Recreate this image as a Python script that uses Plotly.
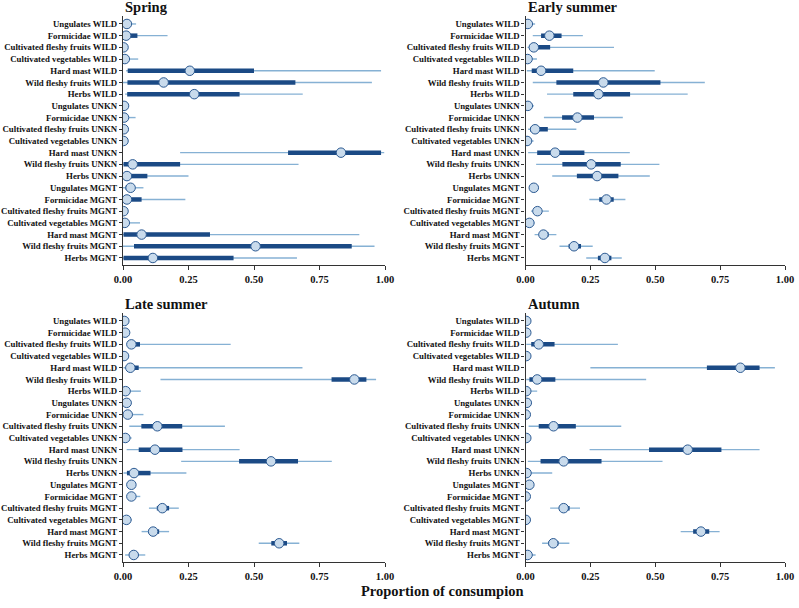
import plotly.graph_objects as go

categories = [
    "Ungulates WILD", "Formicidae WILD", "Cultivated fleshy fruits WILD",
    "Cultivated vegetables WILD", "Hard mast WILD", "Wild fleshy fruits WILD",
    "Herbs WILD", "Ungulates UNKN", "Formicidae UNKN",
    "Cultivated fleshy fruits UNKN", "Cultivated vegetables UNKN",
    "Hard mast UNKN", "Wild fleshy fruits UNKN", "Herbs UNKN",
    "Ungulates MGNT", "Formicidae MGNT", "Cultivated fleshy fruits MGNT",
    "Cultivated vegetables MGNT", "Hard mast MGNT", "Wild fleshy fruits MGNT",
    "Herbs MGNT",
]

seasons = ["Spring", "Early summer", "Late summer", "Autumn"]
x_tick_vals = [0.0, 0.25, 0.5, 0.75, 1.0]
x_tick_text = ["0.00", "0.25", "0.50", "0.75", "1.00"]

# Spring
spring_lo95 = [0.0, 0.0, 0.0, 0.0, 0.012, 0.0, 0.008, 0.0, 0.0, 0.0, 0.0, 0.218, 0.0, 0.0, 0.0, 0.0, 0.0, 0.0, 0.0, 0.0, 0.0]
spring_lo50 = [0.005, 0.004, 0.0, 0.001, 0.018, 0.017, 0.016, 0.001, 0.001, 0.0, 0.0, 0.630, 0.002, 0.001, 0.010, 0.003, 0.0, 0.001, 0.002, 0.042, 0.002]
spring_med = [0.015, 0.012, 0.002, 0.007, 0.255, 0.155, 0.272, 0.004, 0.004, 0.003, 0.002, 0.832, 0.037, 0.015, 0.029, 0.015, 0.002, 0.007, 0.071, 0.506, 0.114]
spring_hi50 = [0.025, 0.055, 0.003, 0.015, 0.500, 0.658, 0.445, 0.008, 0.010, 0.005, 0.004, 0.985, 0.218, 0.093, 0.040, 0.071, 0.003, 0.015, 0.332, 0.873, 0.422]
spring_hi95 = [0.050, 0.170, 0.006, 0.058, 0.985, 0.950, 0.686, 0.015, 0.048, 0.010, 0.008, 0.997, 0.670, 0.250, 0.078, 0.238, 0.006, 0.065, 0.902, 0.960, 0.664]

# Early summer
early_lo95 = [0.0, 0.028, 0.008, 0.0, 0.005, 0.028, 0.083, 0.0, 0.071, 0.010, 0.0, 0.010, 0.041, 0.103, 0.022, 0.246, 0.021, 0.003, 0.035, 0.131, 0.234]
early_lo50 = [0.003, 0.060, 0.015, 0.002, 0.024, 0.119, 0.184, 0.003, 0.141, 0.018, 0.002, 0.045, 0.142, 0.198, 0.028, 0.284, 0.035, 0.009, 0.056, 0.166, 0.279]
early_med = [0.009, 0.092, 0.032, 0.008, 0.060, 0.300, 0.281, 0.009, 0.200, 0.037, 0.006, 0.114, 0.253, 0.276, 0.032, 0.312, 0.046, 0.015, 0.069, 0.187, 0.306]
early_hi50 = [0.015, 0.139, 0.095, 0.015, 0.184, 0.520, 0.403, 0.015, 0.264, 0.086, 0.012, 0.227, 0.367, 0.358, 0.036, 0.340, 0.058, 0.022, 0.089, 0.214, 0.331]
early_hi95 = [0.037, 0.221, 0.341, 0.044, 0.498, 0.691, 0.625, 0.033, 0.375, 0.196, 0.031, 0.402, 0.516, 0.479, 0.043, 0.385, 0.090, 0.035, 0.119, 0.259, 0.371]

# Late summer
late_lo95 = [0.0, 0.0, 0.014, 0.0, 0.002, 0.143, 0.0, 0.002, 0.002, 0.024, 0.0, 0.014, 0.222, 0.002, 0.020, 0.014, 0.099, 0.002, 0.071, 0.518, 0.008]
late_lo50 = [0.001, 0.003, 0.019, 0.001, 0.014, 0.796, 0.004, 0.008, 0.010, 0.070, 0.003, 0.060, 0.443, 0.015, 0.027, 0.025, 0.129, 0.008, 0.098, 0.566, 0.025]
late_med = [0.005, 0.008, 0.032, 0.004, 0.028, 0.883, 0.010, 0.014, 0.018, 0.131, 0.009, 0.122, 0.565, 0.042, 0.032, 0.032, 0.150, 0.013, 0.115, 0.596, 0.041]
late_hi50 = [0.008, 0.013, 0.065, 0.007, 0.060, 0.929, 0.020, 0.020, 0.033, 0.226, 0.015, 0.227, 0.668, 0.105, 0.037, 0.042, 0.176, 0.020, 0.138, 0.626, 0.058]
late_hi95 = [0.012, 0.027, 0.411, 0.010, 0.685, 0.966, 0.068, 0.025, 0.078, 0.389, 0.033, 0.445, 0.797, 0.242, 0.045, 0.066, 0.213, 0.034, 0.176, 0.673, 0.085]

# Autumn
autumn_lo95 = [0.0, 0.0, 0.003, 0.0, 0.250, 0.003, 0.0, 0.0, 0.0, 0.012, 0.0, 0.247, 0.009, 0.0, 0.005, 0.0, 0.095, 0.0, 0.598, 0.064, 0.0]
autumn_lo50 = [0.001, 0.001, 0.022, 0.001, 0.699, 0.015, 0.001, 0.002, 0.0, 0.051, 0.001, 0.476, 0.058, 0.001, 0.010, 0.0, 0.129, 0.0, 0.646, 0.089, 0.003]
autumn_med = [0.003, 0.003, 0.051, 0.003, 0.828, 0.045, 0.003, 0.005, 0.001, 0.108, 0.003, 0.625, 0.147, 0.004, 0.015, 0.001, 0.147, 0.001, 0.676, 0.107, 0.008]
autumn_hi50 = [0.005, 0.005, 0.112, 0.005, 0.902, 0.115, 0.010, 0.008, 0.004, 0.194, 0.005, 0.755, 0.293, 0.020, 0.020, 0.002, 0.170, 0.002, 0.708, 0.127, 0.015]
autumn_hi95 = [0.008, 0.008, 0.356, 0.008, 0.961, 0.465, 0.045, 0.012, 0.019, 0.369, 0.008, 0.902, 0.528, 0.103, 0.028, 0.004, 0.210, 0.003, 0.748, 0.169, 0.039]

panels = [
    (spring_lo95, spring_lo50, spring_med, spring_hi50, spring_hi95),
    (early_lo95, early_lo50, early_med, early_hi50, early_hi95),
    (late_lo95, late_lo50, late_med, late_hi50, late_hi95),
    (autumn_lo95, autumn_lo50, autumn_med, autumn_hi50, autumn_hi95),
]

W, H = 799, 608
FONT = "Liberation Serif, Times New Roman, serif"
THIN = "#86b1d4"
THICK = "#1b4a85"
MFILL = "#c9dbec"
MLINE = "#2c5a92"

# pixel boxes of the plot areas: (left, right, top, bottom)
boxes = [(123, 385, 16, 265), (525.5, 785, 16, 265),
         (123, 385, 313, 562), (525.5, 785, 313, 562)]

fig = go.Figure()
layout = dict(
    width=W, height=H, margin=dict(l=0, r=0, t=0, b=0, autoexpand=False),
    paper_bgcolor="white", plot_bgcolor="white", showlegend=False,
    font=dict(family=FONT, color="#111111"),
)
annotations = []
ypos = list(range(len(categories)))

for i, (lo95, lo50, med, hi50, hi95) in enumerate(panels):
    k = "" if i == 0 else str(i + 1)
    xa, ya = "x" + k, "y" + k
    tx, ty = [], []
    bx, by = [], []
    for j in ypos:
        tx += [lo95[j], hi95[j], None]
        ty += [j, j, None]
        bx += [lo50[j], hi50[j], None]
        by += [j, j, None]
    fig.add_trace(go.Scatter(x=tx, y=ty, mode="lines", xaxis=xa, yaxis=ya,
                             line=dict(color=THIN, width=1.4), hoverinfo="skip"))
    fig.add_trace(go.Scatter(x=bx, y=by, mode="lines", xaxis=xa, yaxis=ya,
                             line=dict(color=THICK, width=4.5), hoverinfo="skip"))
    fig.add_trace(go.Scatter(x=med, y=ypos, mode="markers", xaxis=xa, yaxis=ya,
                             marker=dict(size=9.5, color=MFILL,
                                         line=dict(color=MLINE, width=1)),
                             text=categories, hovertemplate="%{text}: %{x:.3f}<extra></extra>"))
    l, r, t, b = boxes[i]
    layout["xaxis" + k] = dict(
        domain=[l / W, r / W], anchor=ya, range=[0, 1], automargin=False,
        tickvals=x_tick_vals, ticktext=["<b>%s</b>" % s for s in x_tick_text],
        ticks="outside", ticklen=4, tickwidth=1, tickcolor="#333333",
        showline=True, linecolor="#333333", linewidth=1.2,
        showgrid=False, zeroline=False,
        tickfont=dict(family=FONT, size=10.5, color="#111111"),
    )
    layout["yaxis" + k] = dict(
        domain=[1 - b / H, 1 - t / H], anchor=xa, automargin=False,
        range=[len(categories) - 1 + 0.6, -0.68],
        tickvals=ypos, ticktext=["<b>%s</b>" % c for c in categories],
        ticks="outside", ticklen=3, tickwidth=1, tickcolor="#333333",
        showline=True, linecolor="#333333", linewidth=1.2,
        showgrid=False, zeroline=False,
        tickfont=dict(family=FONT, size=8.8, color="#111111"),
    )
    annotations.append(dict(
        text="<b>%s</b>" % seasons[i], xref="paper", yref="paper",
        x=l / W, y=1 - (t - 9) / H, xanchor="left", yanchor="middle",
        showarrow=False, font=dict(family=FONT, size=14.5, color="#111111"),
    ))

annotations.append(dict(
    text="<b>Proportion of consumpion</b>", xref="paper", yref="paper",
    x=442 / W, y=1 - 591 / H, xanchor="center", yanchor="middle",
    showarrow=False, font=dict(family=FONT, size=14.5, color="#111111"),
))
layout["annotations"] = annotations
fig.update_layout(**layout)
fig.write_html("out.html", config={"displayModeBar": False},
               post_script="document.body.style.margin='0px';document.body.style.overflow='hidden';")
